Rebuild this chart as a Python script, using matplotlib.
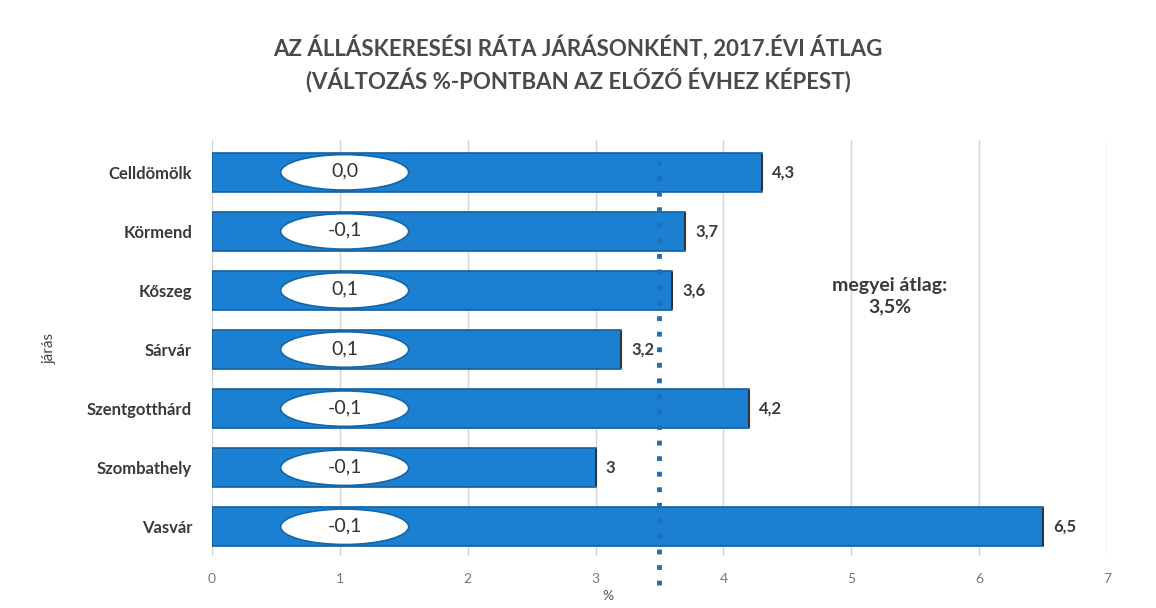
import matplotlib.pyplot as plt
from matplotlib.patches import Ellipse
from matplotlib.transforms import blended_transform_factory
import numpy as np

plt.rcParams['font.family'] = ['Lato', 'DejaVu Sans']

jarasok = ['Celldömölk', 'Körmend', 'Kőszeg', 'Sárvár', 'Szentgotthárd', 'Szombathely', 'Vasvár']
rata = [4.3, 3.7, 3.6, 3.2, 4.2, 3.0, 6.5]
rata_cimke = ['4,3', '3,7', '3,6', '3,2', '4,2', '3', '6,5']
valtozas = ['0,0', '-0,1', '0,1', '0,1', '-0,1', '-0,1', '-0,1']
megyei_atlag = 3.5

fig = plt.figure(figsize=(11.56, 6.08), dpi=100)
ax = fig.add_axes([0.183, 0.085, 0.775, 0.685])

y = np.arange(len(jarasok))[::-1]
ax.barh(y, rata, height=0.66, color='#1b80d2', edgecolor='#14609e', linewidth=1.2, zorder=3)

for yi, r, lab, v in zip(y, rata, rata_cimke, valtozas):
    ax.text(r + 0.08, yi, lab, va='center', ha='left', fontsize=12, fontweight='bold', color='#3a3a3a')
    ax.plot([r, r], [yi - 0.3, yi + 0.3], color='#333333', lw=1.5, zorder=4)
    ax.add_patch(Ellipse((1.04, yi), 1.0, 0.6, facecolor='white', edgecolor='#1466a8', lw=1.2, zorder=5))
    ax.text(1.04, yi + 0.02, v, ha='center', va='center', fontsize=14, color='#333333', zorder=6)

trans = blended_transform_factory(ax.transData, ax.transAxes)
ax.plot([megyei_atlag, megyei_atlag], [-0.07, 0.95], transform=trans, color='#1f6fb5',
        linestyle=(0, (1, 2.2)), lw=3.5, clip_on=False, zorder=4)
ax.text(5.3, 3.9, 'megyei átlag:\n3,5%', ha='center', va='center', fontsize=14,
        fontweight='bold', color='#3a3a3a', linespacing=1.3)

ax.set_xlim(0, 7)
ax.set_ylim(-0.5, 6.55)
ax.set_xticks(range(8))
ax.tick_params(axis='x', length=0, labelsize=10, labelcolor='#777777', pad=12)
ax.tick_params(axis='y', length=0, labelsize=12, pad=14)
ax.set_yticks(y)
ax.set_yticklabels(jarasok, fontweight='bold', color='#3a3a3a')
ax.grid(axis='x', color='#d6d6d6', lw=1, zorder=0)
for s in ax.spines.values():
    s.set_visible(False)

ax.set_ylabel('járás', fontsize=11, color='#444444', labelpad=22)
ax.text(3.1, -0.095, '%', transform=trans, ha='center', va='center', fontsize=10, color='#555555')

fig.text(0.5, 0.895, 'AZ ÁLLÁSKERESÉSI RÁTA JÁRÁSONKÉNT, 2017.ÉVI ÁTLAG\n(VÁLTOZÁS %-PONTBAN AZ ELŐZŐ ÉVHEZ KÉPEST)',
         ha='center', va='center', fontsize=16, fontweight='bold', color='#4a4a4a', linespacing=1.4)

fig.savefig('out.png', dpi=100, facecolor='white')
